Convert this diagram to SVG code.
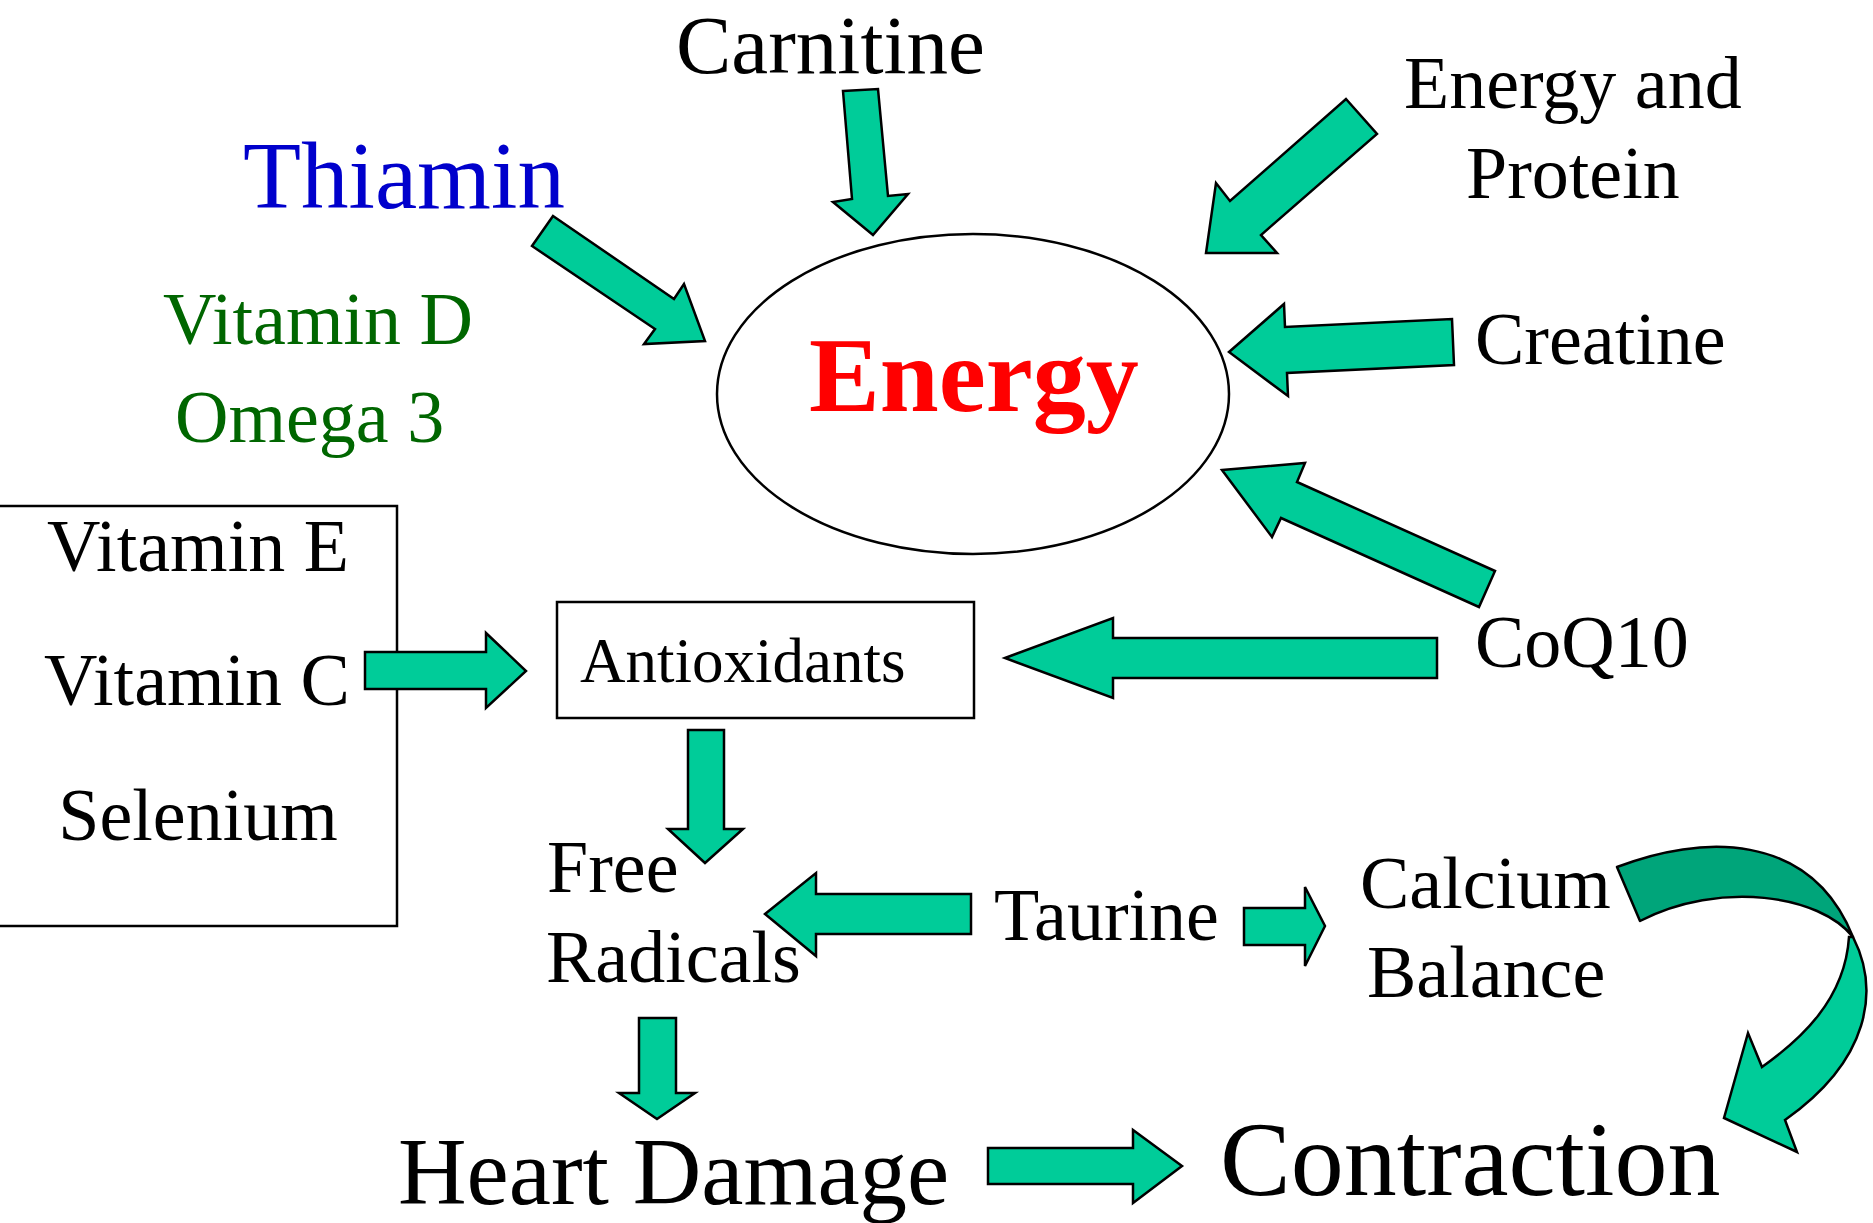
<svg xmlns="http://www.w3.org/2000/svg" width="1873" height="1223" viewBox="0 0 1873 1223">
<style>
.t{font-family:"Liberation Serif","Times New Roman",serif;fill:#000}
.a{fill:#00CC99;stroke:#000;stroke-width:2.5;stroke-linejoin:miter}
.box{fill:#fff;stroke:#000;stroke-width:2.5}
</style>
<rect width="1873" height="1223" fill="#fff"/>
<g id="energy">
<ellipse cx="973" cy="394" rx="256" ry="160" fill="#fff" stroke="#000" stroke-width="2.5"/>
<text class="t" x="809" y="411" font-size="106" font-weight="bold" style="fill:#FF0000">Energy</text>
</g>
<g id="carnitine"><text class="t" x="676" y="73" font-size="83">Carnitine</text></g>
<g id="thiamin"><text class="t" x="243" y="208" font-size="95" style="fill:#0000CC">Thiamin</text></g>
<g id="energy-protein">
<text class="t" x="1404" y="108" font-size="74">Energy and</text>
<text class="t" x="1466" y="198" font-size="74">Protein</text>
</g>
<g id="creatine"><text class="t" x="1475" y="364" font-size="74">Creatine</text></g>
<g id="coq10"><text class="t" x="1475" y="667" font-size="74">CoQ10</text></g>
<g id="vitd-omega">
<text class="t" x="163" y="344" font-size="74" style="fill:#006600">Vitamin D</text>
<text class="t" x="175" y="442" font-size="74" style="fill:#006600">Omega 3</text>
</g>
<g id="vitamins">
<rect class="box" x="-5" y="506" width="402" height="420"/>
<text class="t" x="198" y="571" font-size="74" text-anchor="middle">Vitamin E</text>
<text class="t" x="197" y="705" font-size="74" text-anchor="middle">Vitamin C</text>
<text class="t" x="198" y="840" font-size="74" text-anchor="middle">Selenium</text>
</g>
<g id="antioxidants">
<rect class="box" x="557" y="602" width="417" height="116"/>
<text class="t" x="580" y="682" font-size="63">Antioxidants</text>
</g>
<g id="free-radicals">
<text class="t" x="547" y="892" font-size="74">Free</text>
<text class="t" x="546" y="982" font-size="74">Radicals</text>
</g>
<g id="taurine"><text class="t" x="994" y="940" font-size="74">Taurine</text></g>
<g id="calcium">
<text class="t" x="1360" y="908" font-size="74">Calcium</text>
<text class="t" x="1367" y="997" font-size="74">Balance</text>
</g>
<g id="heart-damage"><text class="t" x="398" y="1204" font-size="95">Heart Damage</text></g>
<g id="contraction"><text class="t" x="1220" y="1195" font-size="106">Contraction</text></g>
<g id="connectors">
<polygon class="a" points="843,91 878,89 888,196 908,194 873,235 833,202 852,199"/>
<polygon class="a" points="553,216 674,299 684,284 705,341 644,344 655,329 532,246"/>
<polygon class="a" points="1346,99 1377,134 1261,235 1277,253 1206,253 1216,183 1230,201"/>
<polygon class="a" points="1229,352 1284,304 1285,327 1452,319 1454,365 1287,373 1288,396"/>
<polygon class="a" points="1222,470 1305,463 1297,482 1495,571 1479,607 1281,518 1272,537"/>
<polygon class="a" points="1005,658 1113,618 1113,638 1437,638 1437,678 1113,678 1113,698"/>
<polygon class="a" points="365,652 486,652 486,633 526,671 486,708 486,689 365,689"/>
<polygon class="a" points="688,730 724,730 724,829 743,829 705,863 668,829 688,829"/>
<polygon class="a" points="765,914 816,873 816,894 971,894 971,934 816,934 816,956"/>
<polygon class="a" points="639,1018 676,1018 676,1093 695,1093 657,1119 619,1093 639,1093"/>
<polygon class="a" points="988,1148 1133,1148 1133,1130 1182,1166 1133,1203 1133,1184 988,1184"/>
<polygon class="a" points="1244,908 1305,908 1305,887 1325,926 1305,966 1305,945 1244,945"/>
<path d="M1617,867 C1700,835 1810,830 1853,937 C1820,895 1720,880 1640,921 Z" fill="#00A57A" stroke="#000" stroke-width="2.5" stroke-linejoin="round"/>
<path d="M1853,937 C1880,990 1870,1060 1785,1120 L1797,1152 L1724,1118 L1748,1033 L1762,1067 C1800,1040 1845,1000 1849,937 Z" fill="#00CC99" stroke="#000" stroke-width="2.5" stroke-linejoin="miter"/>
</g>
</svg>
